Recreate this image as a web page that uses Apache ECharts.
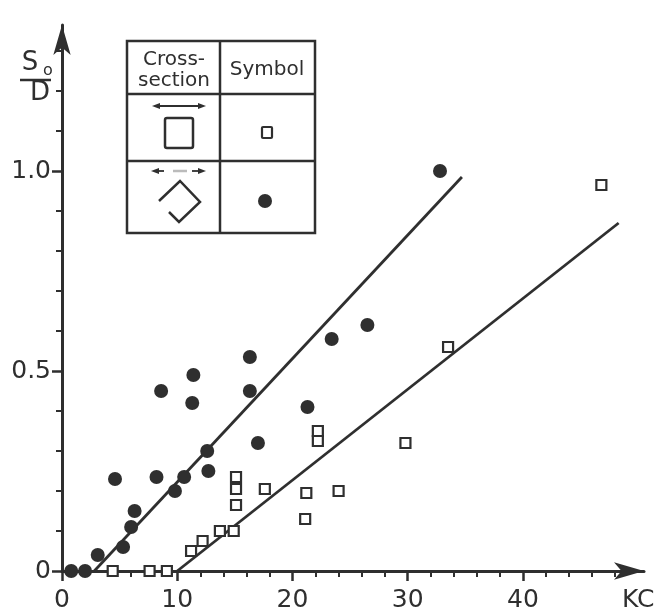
<!DOCTYPE html>
<html>
<head>
<meta charset="utf-8">
<script src="https://cdn.jsdelivr.net/npm/echarts@6/dist/echarts.min.js"></script>
<style>
html, body { margin: 0; padding: 0; background: #fff; }
#chart_gap { width: 661px; height: 613px; }
</style>
</head>
<body>
<div id="chart_gap"></div>
<script>
// diamond cross-section (filled circles)
var diamond_kc = [0.8, 2.0, 3.1, 4.6, 5.3, 6.0, 6.3, 8.2, 8.6, 9.8, 10.6, 11.4, 11.3, 12.6, 12.7, 16.3, 16.3, 17.0, 21.3, 23.4, 26.5, 32.8];
var diamond_sd = [0, 0, 0.04, 0.23, 0.06, 0.11, 0.15, 0.235, 0.45, 0.20, 0.235, 0.49, 0.42, 0.30, 0.25, 0.535, 0.45, 0.32, 0.41, 0.58, 0.615, 1.0];
// square cross-section (open squares)
var square_kc = [4.4, 7.6, 9.1, 11.2, 12.2, 13.7, 14.9, 15.1, 15.1, 15.1, 17.6, 21.1, 21.2, 22.2, 22.2, 24.0, 29.8, 33.5, 46.8];
var square_sd = [0, 0, 0, 0.05, 0.075, 0.10, 0.10, 0.165, 0.205, 0.235, 0.205, 0.13, 0.195, 0.35, 0.325, 0.20, 0.32, 0.56, 0.965];
// fitted lines, end points
var diamond_fit_kc = [2.8, 34.7];
var diamond_fit_sd = [0, 0.985];
var square_fit_kc = [10.0, 48.3];
var square_fit_sd = [0, 0.87];
// tick labels
var x_ticks = [0, 10, 20, 30, 40];
var x_labels = [0, 10, 20, 30, 40, 50];
var y_ticks = [0, 0.5, 1.0];

var INK = '#2f2f2f';
var FONT = '"DejaVu Sans", sans-serif';

function toPairs(xs, ys){
    var out = [];
    for(var i=0;i<xs.length;i++){
        out.push([xs[i], ys[i]]);
    }
    return out;
}

function txt(s, x, y, size, color){
    return {
        type: 'text',
        z: 100,
        style: {
            text: s, x: x, y: y,
            fill: color || INK,
            font: size + 'px ' + FONT,
            align: 'center', verticalAlign: 'middle',
            textAlign: 'center', textVerticalAlign: 'middle'
        }
    };
}

function seg(x1, y1, x2, y2, w, color){
    return {
        type: 'line',
        z: 100,
        shape: {x1: x1, y1: y1, x2: x2, y2: y2},
        style: {stroke: color || INK, lineWidth: w}
    };
}

function head(points){
    return {
        type: 'polygon',
        z: 100,
        shape: {points: points},
        style: {fill: INK}
    };
}

// legend table + axis name, drawn as decoration
var deco = [
    {type: 'rect', z: 100, shape: {x: 127, y: 41, width: 188, height: 192},
        style: {fill: '#fff', stroke: INK, lineWidth: 2.5}},
    seg(220, 41, 220, 233, 2.5),
    seg(127, 94, 315, 94, 2.5),
    seg(127, 161, 315, 161, 2.5),
    txt('Cross-', 174, 60, 20),
    txt('section', 174, 81, 20),
    txt('Symbol', 267, 70, 20),
    // row 1
    seg(156, 106, 202, 106, 1.8),
    head([[152, 106], [160, 103], [160, 109]]),
    head([[206, 106], [198, 103], [198, 109]]),
    {type: 'rect', z: 100, shape: {x: 165, y: 118, width: 28, height: 30, r: 2},
        style: {fill: 'none', stroke: INK, lineWidth: 2.5}},
    {type: 'rect', z: 100, shape: {x: 262, y: 127, width: 10, height: 11, r: 1},
        style: {fill: 'none', stroke: INK, lineWidth: 2.2}},
    // row 2
    seg(155, 171, 164, 171, 1.8),
    head([[151, 171], [159, 168], [159, 174]]),
    seg(173, 171, 187, 171, 2.5, '#bbb'),
    seg(192, 171, 202, 171, 1.8),
    head([[206, 171], [198, 168], [198, 174]]),
    {type: 'polyline', z: 100,
        shape: {points: [[169, 212], [179, 222], [200, 202], [180, 181], [159, 201]]},
        style: {fill: 'none', stroke: INK, lineWidth: 2.5}},
    {type: 'circle', z: 100, shape: {cx: 265, cy: 201, r: 7}, style: {fill: INK}},
    // S0 / D
    txt('S', 30, 63, 26),
    txt('o', 48, 71, 16),
    seg(20, 80, 51, 80, 2.5),
    txt('D', 40, 93, 26)
];

var myChart = echarts.init(document.getElementById('chart_gap'));
var option = {
    animation: false,
    backgroundColor: '#fff',
    grid: {
        left: 62,
        right: 17,
        top: 25,
        bottom: 42,
        outerBoundsMode: 'none'
    },
    xAxis: {
        type: 'value',
        min: 0,
        max: 50.5,
        interval: 10,
        splitLine: {show: false},
        axisLine: {
            show: true,
            symbol: ['none', 'arrow'],
            symbolSize: [13, 30],
            lineStyle: {color: INK, width: 3}
        },
        axisTick: {
            show: true,
            length: 10,
            customValues: x_ticks,
            lineStyle: {color: INK, width: 2.5}
        },
        minorTick: {
            show: true,
            splitNumber: 5,
            length: 6,
            lineStyle: {color: INK, width: 2}
        },
        axisLabel: {
            customValues: x_labels,
            margin: 17,
            color: INK,
            fontSize: 25,
            fontFamily: FONT,
            formatter: function(v){
                return v === 50 ? 'KC' : String(v);
            }
        }
    },
    yAxis: {
        type: 'value',
        min: 0,
        max: 1.365,
        interval: 0.5,
        splitLine: {show: false},
        axisLine: {
            show: true,
            symbol: ['none', 'arrow'],
            symbolSize: [13, 30],
            lineStyle: {color: INK, width: 3}
        },
        axisTick: {
            show: true,
            length: 10,
            customValues: y_ticks,
            lineStyle: {color: INK, width: 2.5}
        },
        minorTick: {
            show: true,
            splitNumber: 5,
            length: 6,
            lineStyle: {color: INK, width: 2}
        },
        axisLabel: {
            customValues: y_ticks,
            margin: 11,
            color: INK,
            fontSize: 25,
            fontFamily: FONT,
            formatter: function(v){
                return v === 0 ? '0' : v.toFixed(1);
            }
        }
    },
    graphic: deco,
    series: [
        {
            name: 'diamond fit',
            type: 'line',
            symbol: 'none',
            z: 2,
            lineStyle: {color: INK, width: 2.8},
            data: toPairs(diamond_fit_kc, diamond_fit_sd)
        },
        {
            name: 'square fit',
            type: 'line',
            symbol: 'none',
            z: 2,
            lineStyle: {color: INK, width: 2.8},
            data: toPairs(square_fit_kc, square_fit_sd)
        },
        {
            name: 'diamond',
            type: 'scatter',
            symbol: 'circle',
            symbolSize: 14,
            clip: false,
            z: 3,
            itemStyle: {color: INK, opacity: 1},
            data: toPairs(diamond_kc, diamond_sd)
        },
        {
            name: 'square',
            type: 'scatter',
            symbol: 'rect',
            symbolSize: 10,
            clip: false,
            z: 4,
            itemStyle: {color: '#fff', borderColor: INK, borderWidth: 2.2, opacity: 1},
            data: toPairs(square_kc, square_sd)
        }
    ]
};
myChart.setOption(option);
</script>
</body>
</html>
